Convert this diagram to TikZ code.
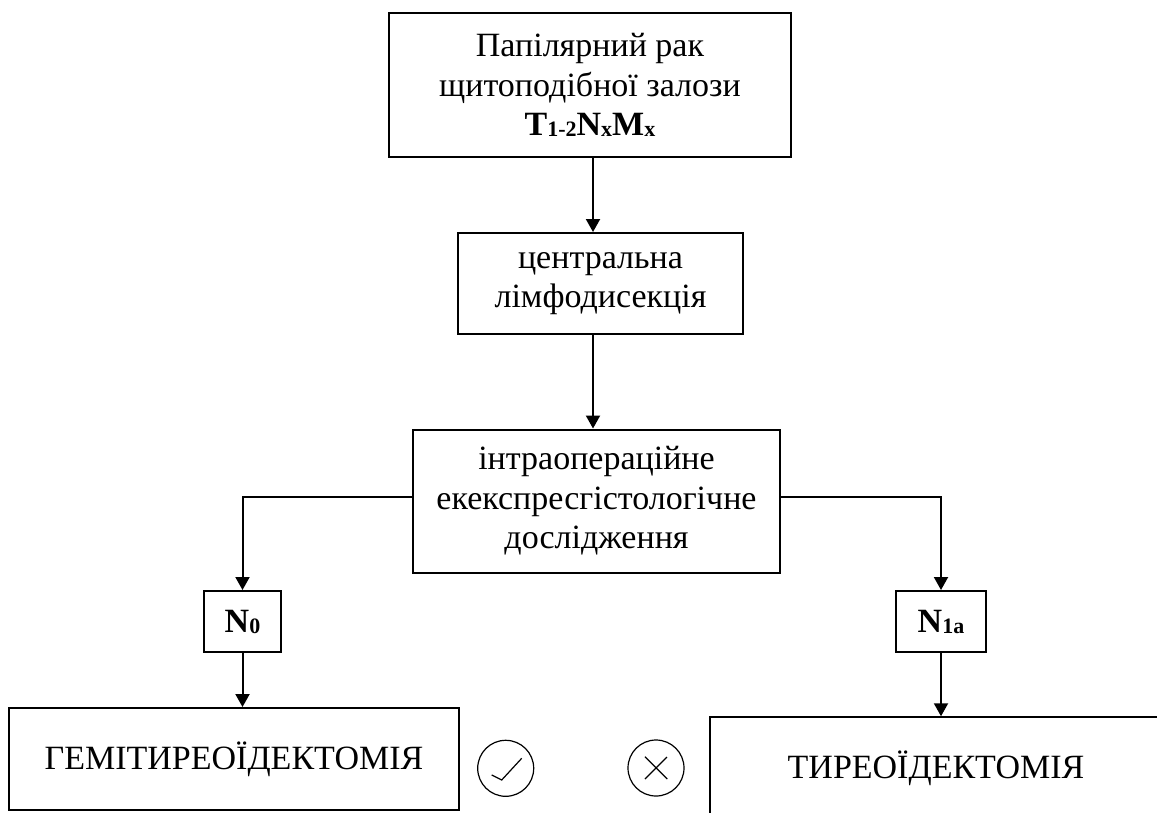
\documentclass[tikz,border=0pt]{standalone}
\usepackage{fontspec}
\setmainfont{Liberation Serif}
\usetikzlibrary{arrows.meta}
\newcommand{\lowsub}[1]{\raisebox{-1pt}{\fontsize{22}{22}\selectfont #1}}
\begin{document}
\begin{tikzpicture}[x=1pt,y=-1pt,
  box/.style={draw, line width=2pt, inner sep=0pt, align=center,
    font=\fontsize{34}{39.5}\selectfont},
  conn/.style={line width=2pt, -{Triangle[length=13pt,width=14pt]}},
  symb/.style={draw, circle, line width=1.2pt, minimum size=56pt, inner sep=0pt},
  symbline/.style={line width=1.2pt}
]
\clip (0,0) rectangle (1157,812);

\node[box, line width=2.6pt, minimum width=402pt, minimum height=144pt] (top) at (590,85)
  {Папілярний рак\\щитоподібної залози\\\textbf{T\lowsub{1-2}N\lowsub{x}M\lowsub{x}}};
\node[box, minimum width=285pt, minimum height=101pt] (cld) at (600.5,283.5)
  {центральна\\лімфодисекція};
\node[box, minimum width=367pt, minimum height=143pt] (ies) at (596.5,501)
  {інтраопераційне\\ екекспресгістологічне\\ дослідження};
\node[box, minimum width=77pt, minimum height=61pt] (n0) at (242.5,621.5)
  {\textbf{N\lowsub{0}}};
\node[box, minimum width=90pt, minimum height=61pt] (n1) at (941,621.5)
  {\textbf{N\lowsub{1a}}};
\node[box, minimum width=450pt, minimum height=102pt] (hemi) at (234,759)
  {ГЕМІТИРЕОЇДЕКТОМІЯ};
\node[box, minimum width=452pt, minimum height=103pt] (thyr) at (936,768.75)
  {ТИРЕОЇДЕКТОМІЯ};

\node[symb] (ok) at (505.7,768.3) {};
\node[symb] (no) at (656,768) {};
\draw[symbline] ([shift={(-14,6.7)}]ok.center) -- ([shift={(-4,11.7)}]ok.center)
  -- ([shift={(16,-10)}]ok.center);
\draw[symbline] ([shift={(-11,-11.3)}]no.center) -- ([shift={(11.3,11)}]no.center);
\draw[symbline] ([shift={(-11,11)}]no.center) -- ([shift={(11,-11)}]no.center);

\coordinate (vx) at (593,0);
\coordinate (hy) at (0,496.5);
\draw[conn] (top.south -| vx) -- (cld.north -| vx);
\draw[conn] (cld.south -| vx) -- (ies.north -| vx);
\draw[conn] (ies.west |- hy) -| (n0.north);
\draw[conn] (ies.east |- hy) -| (n1.north);
\draw[conn] (n0.south) -- (hemi.north -| n0.south);
\draw[conn] (n1.south) -- (thyr.north -| n1.south);
\end{tikzpicture}
\end{document}
